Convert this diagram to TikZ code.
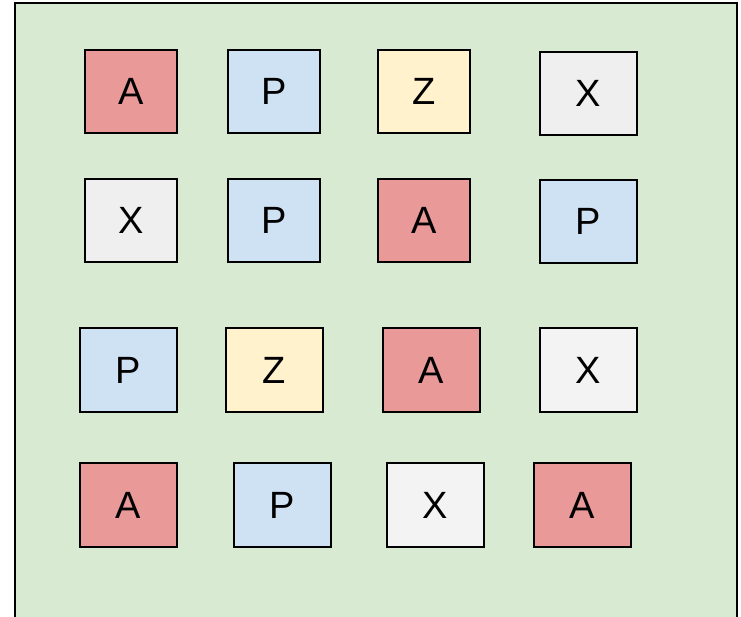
\documentclass[tikz,border=0pt]{standalone}
\usepackage{fontspec}
\setmainfont{Liberation Sans}
\definecolor{bggreen}{HTML}{D9EAD3}
\definecolor{cred}{HTML}{EA9999}
\definecolor{cblue}{HTML}{CFE2F3}
\definecolor{cyellow}{HTML}{FFF2CC}
\definecolor{cgrey}{HTML}{EFEFEF}
\definecolor{cgreyb}{HTML}{F3F3F3}
\tikzset{
  tilebox/.style={draw=black, line width=1.5pt},
  tilelabel/.style={font=\fontsize{38}{38}\selectfont, inner sep=0pt},
}
\begin{document}
\begin{tikzpicture}[x=1pt,y=-1pt]
\useasboundingbox (0,0) rectangle (741,616);
\path[fill=white] (0,0) rectangle (741,616);
\draw[fill=bggreen, line width=1.3pt] (15,3) rectangle (737,630);
\foreach \n/\xa/\ya/\xb/\yb/\c/\t in {
 a1/85/50/177/133/cred/A, a2/228/50/320/133/cblue/P, a3/378/50/470/133/cyellow/Z, a4/540/52/637/135/cgrey/X,
 b1/85/179/177/262/cgrey/X, b2/228/179/320/262/cblue/P, b3/378/179/470/262/cred/A, b4/540/180/637/263/cblue/P,
 c1/80/328/177/412/cblue/P, c2/226/328/323/412/cyellow/Z, c3/383/328/480/412/cred/A, c4/540/328/637/412/cgreyb/X,
 d1/80/463/177/547/cred/A, d2/234/463/331/547/cblue/P, d3/387/463/484/547/cgreyb/X, d4/534/463/631/547/cred/A}
{
  \draw[tilebox, fill=\c] (\xa,\ya) rectangle (\xb,\yb);
  \node[tilelabel] (\n) at ({(\xa+\xb)/2},{(\ya+\yb)/2}) {\t};
}
\end{tikzpicture}
\end{document}
